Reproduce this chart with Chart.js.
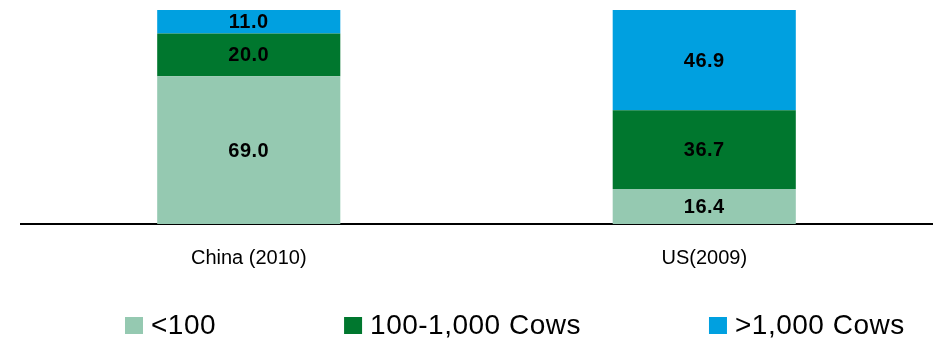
<!DOCTYPE html>
<html>
<head>
<meta charset="utf-8">
<script src="https://cdn.jsdelivr.net/npm/chart.js@4.4.0/dist/chart.umd.min.js"></script>
<style>
  html, body { margin: 0; padding: 0; background: #fff; }
  #wrap { width: 936px; height: 339px; }
</style>
</head>
<body>
<div id="wrap"><canvas id="farms" width="936" height="339"></canvas></div>
<script>
var categories = ['China (2010)', 'US(2009)'];
var small = [69.0, 16.4];     // <100
var medium = [20.0, 36.7];    // 100-1,000 Cows
var large = [11.0, 46.9];     // >1,000 Cows
var seriesNames = ['<100', '100-1,000 Cows', '>1,000 Cows'];
var seriesColors = ['#95c9b1', '#00772e', '#00a0e0'];

// value text in the middle of each segment
var segmentLabels = {
    id: 'segmentLabels',
    afterDatasetsDraw: function(chart) {
        var ctx = chart.ctx;
        ctx.save();
        ctx.fillStyle = '#000';
        ctx.font = 'bold 20px "Liberation Sans", Arial, sans-serif';
        ctx.letterSpacing = '0.5px';
        ctx.textAlign = 'center';
        ctx.textBaseline = 'middle';
        chart.data.datasets.forEach(function(ds, i) {
            chart.getDatasetMeta(i).data.forEach(function(bar, j) {
                var y = (bar.y + bar.base) / 2;
                ctx.fillText(ds.data[j].toFixed(1), bar.x, y + 1);
            });
        });
        ctx.restore();
    }
};

// legend row along the bottom
var bottomLegend = {
    id: 'bottomLegend',
    afterDraw: function(chart) {
        var ctx = chart.ctx;
        ctx.save();
        ctx.font = '28px "Liberation Sans", Arial, sans-serif';
        ctx.letterSpacing = '0.5px';
        ctx.textBaseline = 'middle';
        ctx.textAlign = 'left';
        var x = 125, y = 325;
        chart.data.datasets.forEach(function(ds) {
            ctx.fillStyle = ds.backgroundColor;
            ctx.fillRect(x, y - 8, 18, 17);
            ctx.fillStyle = '#000';
            ctx.fillText(ds.label, x + 26, y + 1);
            x += 26 + ctx.measureText(ds.label).width + 128;
        });
        ctx.restore();
    }
};

new Chart(document.getElementById('farms'), {
    type: 'bar',
    data: {
        labels: categories,
        datasets: [
            { label: seriesNames[0], data: small, backgroundColor: seriesColors[0] },
            { label: seriesNames[1], data: medium, backgroundColor: seriesColors[1] },
            { label: seriesNames[2], data: large, backgroundColor: seriesColors[2] }
        ]
    },
    options: {
        responsive: false,
        animation: false,
        layout: { padding: { left: 21, right: 4, top: 10, bottom: 47 } },
        datasets: { bar: { categoryPercentage: 1, barPercentage: 0.402 } },
        plugins: { legend: { display: false }, tooltip: { enabled: false } },
        scales: {
            x: {
                stacked: true,
                grid: { display: false, drawTicks: false },
                border: { display: true, color: '#000', width: 2 },
                ticks: {
                    padding: 22,
                    color: '#000',
                    font: { family: '"Liberation Sans", Arial, sans-serif', size: 20 }
                }
            },
            y: {
                stacked: true,
                display: false,
                min: 0,
                max: 100
            }
        }
    },
    plugins: [segmentLabels, bottomLegend]
});
</script>
</body>
</html>
